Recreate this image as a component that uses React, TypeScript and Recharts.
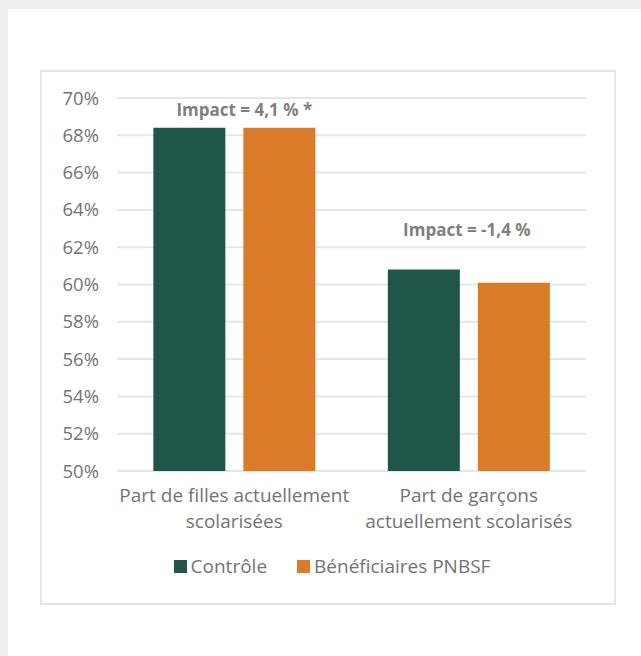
import { BarChart, Bar, XAxis, YAxis, CartesianGrid, Legend, LabelList } from 'recharts';

const categories = [
  ['Part de filles actuellement', 'scolarisées'],
  ['Part de garçons', 'actuellement scolarisés'],
];
const controle = [68.4, 60.8];
const beneficiaires = [68.4, 60.1];
const impacts = ['Impact = 4,1 % *', 'Impact = -1,4 %'];
const yTicks = [50, 52, 54, 56, 58, 60, 62, 64, 66, 68, 70];

const GREEN = '#20564a';
const ORANGE = '#db7b28';
const TEXT = '#737373';
const FONT = '"Open Sans", Lato, sans-serif';

// nudges for the impact captions above each group
const IMPACT_DX = [10, -2];
const IMPACT_DY = [-12, -34];

const data = categories.map((lines, i) => ({
  name: lines.join(' '),
  lines,
  controle: controle[i],
  beneficiaires: beneficiaires[i],
  impact: impacts[i],
}));

const CategoryTick = (props: any) => {
  const { x, y, index } = props;
  const lines: string[] = data[index]?.lines ?? [];
  return (
    <text x={x} y={y} textAnchor="middle" fill={TEXT} fontSize={19} fontFamily={FONT}>
      {lines.map((l, i) => (
        <tspan key={i} x={x} dy={i === 0 ? 23 : 26}>
          {l}
        </tspan>
      ))}
    </text>
  );
};

const ImpactLabel = (props: any) => {
  const { x, y, width, index, value } = props;
  const cx = x + width + 9 + IMPACT_DX[index];
  return (
    <text
      x={cx}
      y={y + IMPACT_DY[index]}
      textAnchor="middle"
      fill="#7f7f7f"
      fontSize={17}
      fontWeight={700}
      fontFamily={FONT}
    >
      {value}
    </text>
  );
};

const LegendBox = () => (
  <div
    style={{
      display: 'flex',
      justifyContent: 'center',
      alignItems: 'center',
      height: 30,
      fontFamily: FONT,
      fontSize: 19,
      color: TEXT,
      paddingLeft: 36,
    }}
  >
    {[
      { label: 'Contrôle', color: GREEN },
      { label: 'Bénéficiaires PNBSF', color: ORANGE },
    ].map((item, i) => (
      <span key={item.label} style={{ display: 'flex', alignItems: 'center', marginLeft: i ? 30 : 0 }}>
        <span style={{ width: 13, height: 13, background: item.color, marginRight: 4 }} />
        {item.label}
      </span>
    ))}
  </div>
);

export default function App() {
  return (
    <div style={{ position: 'absolute', left: 0, top: 0, width: 641, height: 656, background: '#eeeeee' }}>
      <div style={{ position: 'absolute', left: 8, top: 9, right: 0, bottom: 0, background: '#ffffff' }} />
      <div
        style={{
          position: 'absolute',
          left: 40,
          top: 70,
          width: 572,
          height: 531,
          border: '2px solid #e1e6ec',
          background: '#ffffff',
        }}
      >
        <BarChart
          width={572}
          height={531}
          data={data}
          margin={{ top: 26, right: 28, left: 0, bottom: 22 }}
          barGap={18}
          barCategoryGap="15.5%"
        >
          <CartesianGrid vertical={false} stroke="#e3e7ec" strokeWidth={2} />
          <XAxis
            dataKey="name"
            axisLine={false}
            tickLine={false}
            height={80}
            interval={0}
            tick={<CategoryTick />}
          />
          <YAxis
            domain={[50, 70]}
            ticks={yTicks}
            width={75}
            axisLine={false}
            tickLine={false}
            tickMargin={12}
            tickFormatter={(v) => `${v}%`}
            tick={{ fill: TEXT, fontSize: 18.5, fontFamily: FONT }}
          />
          <Legend verticalAlign="bottom" content={<LegendBox />} />
          <Bar dataKey="controle" name="Contrôle" fill={GREEN} isAnimationActive={false}>
            <LabelList dataKey="impact" content={<ImpactLabel />} />
          </Bar>
          <Bar dataKey="beneficiaires" name="Bénéficiaires PNBSF" fill={ORANGE} isAnimationActive={false} />
        </BarChart>
      </div>
    </div>
  );
}
